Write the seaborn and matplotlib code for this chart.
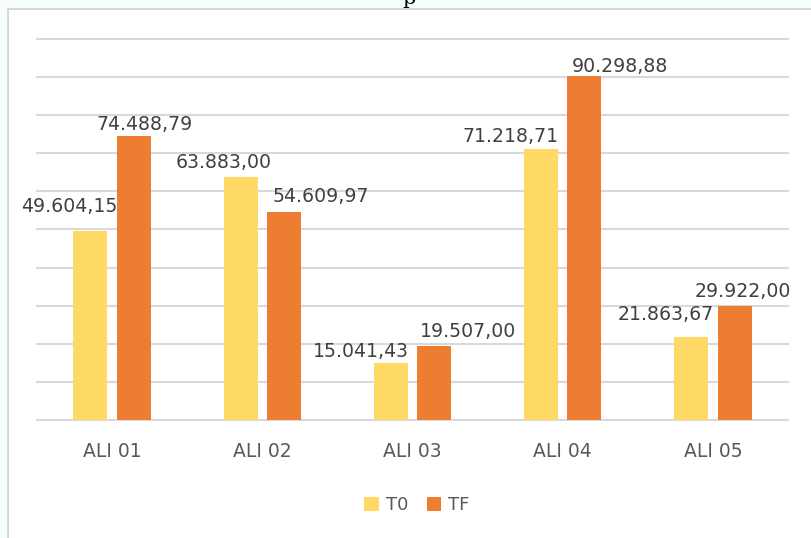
import pandas as pd
import seaborn as sns
import matplotlib.pyplot as plt
from matplotlib.patches import Rectangle, Patch

categories = ["ALI 01", "ALI 02", "ALI 03", "ALI 04", "ALI 05"]
series = ["T0", "TF"]
t0_values = [49604.15, 63883.00, 15041.43, 71218.71, 21863.67]
tf_values = [74488.79, 54609.97, 19507.00, 90298.88, 29922.00]

colors = {"T0": "#FFD966", "TF": "#ED7D31"}

# label nudges (pixels) to mimic how excel pushed the labels apart
t0_nudge_x = [10, 14, 1, 1, 6]
t0_nudge_y = [19, 9, 6, 7, 17]
tf_nudge_x = [-20, 5, 3, 4, -23]
tf_nudge_y = [6, 10, 9, 4, 9]


def br_format(v):
    s = f"{v:,.2f}"
    return s.replace(",", "X").replace(".", ",").replace("X", ".")


df = pd.DataFrame(
    {
        "sample": categories * 2,
        "time": ["T0"] * len(categories) + ["TF"] * len(categories),
        "value": t0_values + tf_values,
    }
)

W, H = 811, 538
fig = plt.figure(figsize=(W / 100, H / 100), dpi=100)
fig.patch.set_facecolor("#F5FDFD")

# white chart area with light border
fig.patches.append(
    Rectangle(
        (7.5 / W, -0.05), 1.1, 1 - 9.5 / H + 0.05,
        transform=fig.transFigure, facecolor="white",
        edgecolor="#D6D6D6", linewidth=1.4, zorder=-5,
    )
)

# bit of the document title cut off above the chart
fig.text(409 / W, 1 + 2 / H, "p", family="DejaVu Serif", fontsize=15,
         color="black", ha="center", va="center")

ax = fig.add_axes([37 / W, (H - 420) / H, (788 - 37) / W, (420 - 39) / H])
ax.set_zorder(2)
sns.barplot(
    data=df, x="sample", y="value", hue="time", palette=colors,
    width=0.58, gap=0.22, saturation=1, legend=False, ax=ax, zorder=3,
)

ax.set_ylim(0, 100000)
ax.set_xlim(-0.5, len(categories) - 0.5)
ax.set_yticks(range(0, 100001, 10000))
ax.yaxis.grid(True, color="#D9D9D9", linewidth=1.5, zorder=0)
for line in ax.get_ygridlines():
    line.set_clip_on(False)
ax.set_axisbelow(True)
ax.set_facecolor("none")
for side in ["top", "right", "left", "bottom"]:
    ax.spines[side].set_visible(False)
ax.set_yticklabels([])
ax.tick_params(axis="y", length=0)
ax.tick_params(axis="x", length=0, pad=16, labelsize=13.5, labelcolor="#595959")
ax.set_xlabel("")
ax.set_ylabel("")

px = 72 / 100
bars = ax.patches
n = len(categories)
for i in range(n):
    b0 = bars[i]
    b1 = bars[n + i]
    ax.annotate(
        br_format(t0_values[i]),
        xy=(b0.get_x() + b0.get_width(), b0.get_height()),
        xytext=(t0_nudge_x[i] * px, t0_nudge_y[i] * px),
        textcoords="offset points", ha="right", va="baseline",
        fontsize=13.6, color="#404040",
    )
    ax.annotate(
        br_format(tf_values[i]),
        xy=(b1.get_x(), b1.get_height()),
        xytext=(tf_nudge_x[i] * px, tf_nudge_y[i] * px),
        textcoords="offset points", ha="left", va="baseline",
        fontsize=13.6, color="#404040",
    )

handles = [Patch(facecolor=colors[s], edgecolor="none", label=s) for s in series]
leg = fig.legend(
    handles=handles, loc="center", bbox_to_anchor=(417 / W, 1 - 505 / H),
    ncol=2, frameon=False, fontsize=13, handlelength=0.8, handleheight=0.8,
    handletextpad=0.4, columnspacing=1.0,
)
for t in leg.get_texts():
    t.set_color("#595959")

fig.savefig("out.png", dpi=100, facecolor=fig.get_facecolor())
